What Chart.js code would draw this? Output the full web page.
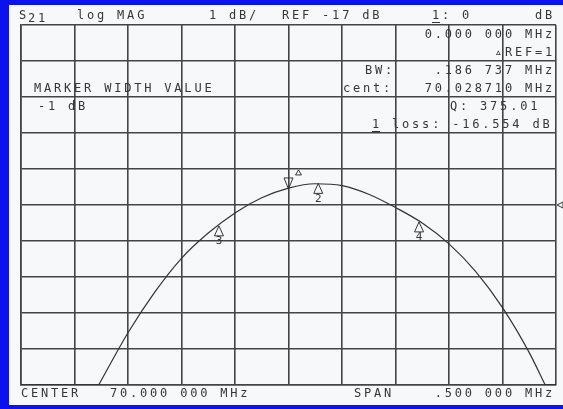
<!DOCTYPE html>
<html lang="en">
<head>
  <meta charset="UTF-8" />
  <title>S21 log MAG</title>
  <script src="https://cdn.jsdelivr.net/npm/chart.js@4.4.1/dist/chart.umd.min.js"></script>
  <style>
    body { margin: 0; background: #f7f8fa; }
    canvas { display: block; }
  </style>
</head>
<body>
  <canvas id="vna" width="563" height="409"></canvas>
  <script>
    // trace (MHz, dB); below -22 dB the analyzer clamps to the bottom line
    const freqs = [69.8226, 69.85, 69.875, 69.90, 69.925, 69.95, 69.975, 70.00, 70.025, 70.05,
                   70.075, 70.10, 70.125, 70.15, 70.175, 70.20, 70.225, 70.2399];
    const s21 = [-22, -20.55, -19.42, -18.48, -17.78, -17.22, -16.8, -16.53, -16.41, -16.46,
                 -16.7, -17.07, -17.5, -18.08, -18.85, -19.85, -21.1, -22];
    const clampLeft = [69.75, 69.8226];
    const clampRight = [70.2399, 70.25];
    const bottomDb = -22;

    // markers
    const markerFreqs = [70.000, 70.0278, 69.935, 70.122];
    const markerVals = [-16.554, -16.40, -17.58, -17.47];
    const markerLabels = ['1', '2', '3', '4'];

    const refLevel = -17;
    const xMin = 69.75, xMax = 70.25, xStep = 0.05;
    const yMin = -22, yMax = -12, yStep = 1;

    const ink = '#363636';
    const gridInk = '#444';
    const font = '12px "DejaVu Sans Mono"';

    function pts(xs, ys) {
      return xs.map((x, i) => ({ x: x, y: Array.isArray(ys) ? ys[i] : ys }));
    }

    const framePlugin = {
      id: 'frame',
      beforeDraw(chart) {
        const c = chart.ctx;
        c.save();
        c.fillStyle = '#f7f8fa';
        c.fillRect(0, 0, chart.width, chart.height);
        c.fillStyle = '#0b12ee';
        c.fillRect(0, 0, chart.width, 5);
        c.fillRect(0, 0, 9, chart.height);
        c.fillRect(0, chart.height - 4, chart.width, 4);
        c.restore();
      }
    };

    function txt(c, s, x, y, align) {
      c.textAlign = align || 'left';
      c.fillText(s, x, y);
    }

    const annotPlugin = {
      id: 'annot',
      afterDraw(chart) {
        const c = chart.ctx;
        const xs = chart.scales.x, ys = chart.scales.y;
        c.save();
        c.fillStyle = ink;
        c.strokeStyle = ink;
        c.font = font;
        c.letterSpacing = '2.8px';
        c.textBaseline = 'alphabetic';

        // header line
        txt(c, 'S', 19, 19);
        txt(c, '21', 28, 22);
        txt(c, 'log MAG', 77, 19);
        txt(c, '1 dB/', 209, 19);
        txt(c, 'REF -17 dB', 282, 19);
        txt(c, '1: 0', 432, 19);
        txt(c, 'dB', 555, 19, 'right');
        c.lineWidth = 1;
        c.beginPath(); c.moveTo(432, 22.5); c.lineTo(440, 22.5); c.stroke();

        // marker readouts
        txt(c, '0.000 000 MHz', 555, 38, 'right');
        txt(c, '\u25B5REF=1', 555, 56, 'right');
        txt(c, 'BW:', 365, 74);
        txt(c, '.186 737 MHz', 555, 74, 'right');
        txt(c, 'cent:', 343, 92);
        txt(c, '70.028710 MHz', 555, 92, 'right');
        txt(c, 'Q: 375.01', 450, 110);
        txt(c, '1 loss: -16.554 dB', 372, 128);
        c.beginPath(); c.moveTo(372, 131.5); c.lineTo(380, 131.5); c.stroke();
        txt(c, 'MARKER WIDTH VALUE', 34, 92);
        txt(c, '-1 dB', 38, 110);

        // footer
        txt(c, 'CENTER', 21, 397);
        txt(c, '70.000 000 MHz', 110, 397);
        txt(c, 'SPAN', 354, 397);
        txt(c, '.500 000 MHz', 555, 397, 'right');

        // marker symbols
        c.letterSpacing = '0px';
        c.font = '11px "DejaVu Sans Mono"';
        c.lineWidth = 1;
        markerFreqs.forEach((f, i) => {
          const px = xs.getPixelForValue(f);
          const py = ys.getPixelForValue(markerVals[i]);
          c.beginPath();
          if (i === 0) {
            c.moveTo(px, py); c.lineTo(px - 4.5, py - 11); c.lineTo(px + 4.5, py - 11); c.closePath();
            c.stroke();
            // small delta-reference flag
            c.beginPath();
            c.moveTo(px + 10, py - 19); c.lineTo(px + 7, py - 14); c.lineTo(px + 13, py - 14); c.closePath();
            c.stroke();
          } else {
            c.moveTo(px, py); c.lineTo(px - 4.5, py + 10); c.lineTo(px + 4.5, py + 10); c.closePath();
            c.stroke();
            c.textAlign = 'center';
            c.textBaseline = 'top';
            c.fillText(markerLabels[i], px, py + 10);
          }
        });

        // reference level pointer on the right edge
        const ry = ys.getPixelForValue(refLevel);
        const rx = chart.chartArea.right;
        c.beginPath();
        c.moveTo(rx + 1, ry); c.lineTo(rx + 7, ry - 3); c.lineTo(rx + 7, ry + 3); c.closePath();
        c.stroke();
        c.restore();
      }
    };

    const lineStyle = { borderColor: '#333', borderWidth: 1.2, pointRadius: 0, fill: false };

    new Chart(document.getElementById('vna'), {
      type: 'line',
      data: {
        datasets: [
          Object.assign({ label: 'S21', data: pts(freqs, s21), cubicInterpolationMode: 'monotone' }, lineStyle),
          Object.assign({ label: 'clamp L', data: pts(clampLeft, bottomDb) }, lineStyle, { borderWidth: 2 }),
          Object.assign({ label: 'clamp R', data: pts(clampRight, bottomDb) }, lineStyle, { borderWidth: 2 })
        ]
      },
      options: {
        responsive: false,
        animation: false,
        layout: { padding: { left: 21, right: 7, top: 25, bottom: 24 } },
        plugins: { legend: { display: false }, tooltip: { enabled: false } },
        scales: {
          x: {
            type: 'linear', min: xMin, max: xMax,
            ticks: { display: false, stepSize: xStep },
            grid: { color: gridInk, lineWidth: 1.6, drawTicks: false },
            border: { color: gridInk, width: 1.6 }
          },
          y: {
            type: 'linear', min: yMin, max: yMax,
            ticks: { display: false, stepSize: yStep },
            grid: { color: gridInk, lineWidth: 1.6, drawTicks: false },
            border: { color: gridInk, width: 1.6 }
          }
        }
      },
      plugins: [framePlugin, annotPlugin]
    });
  </script>
</body>
</html>
